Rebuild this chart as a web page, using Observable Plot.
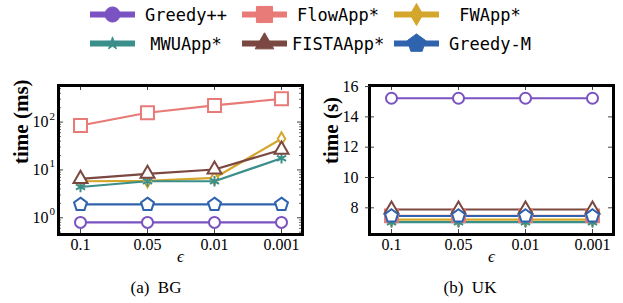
<!DOCTYPE html>
<html><head><meta charset="utf-8">
<script src="https://cdn.jsdelivr.net/npm/d3@7"></script>
<script src="https://cdn.jsdelivr.net/npm/@observablehq/plot@0.6"></script>
<style>
body{margin:0;width:623px;height:303px;position:relative;background:#fff;overflow:hidden}
#legend{position:absolute;left:90px;top:0;font-family:"DejaVu Sans Mono";font-size:17px;color:#000}
.item{position:absolute;display:flex;align-items:center;height:29px}
.item span{display:inline-block;width:92px;text-align:center;margin-left:5px;white-space:nowrap}
.cap{position:absolute;top:279px;font-family:"Liberation Serif";font-size:17px;line-height:18px;text-align:center;width:140px;white-space:pre;color:#000}
#left,#right{position:absolute;top:60px}
#left{left:0}
#right{left:311px}
</style></head><body>
<div id="legend"></div>
<div id="left"></div>
<div id="right"></div>
<div class="cap" style="left:86px">(a)  BG</div>
<div class="cap" style="left:400px">(b)  UK</div>
<script>
// ---- data ----
const eps = ["0.1", "0.05", "0.01", "0.001"];
const names = ["Greedy++", "FlowApp*", "FWApp*", "MWUApp*", "FISTAApp*", "Greedy-M"];
const colors = ["#7b52c1", "#e87a77", "#d4a72c", "#3b8f8b", "#7a4841", "#2f63ae"];

// BG, time (ms)
const bgGreedyPP = [0.8, 0.8, 0.8, 0.8];
const bgFlowApp  = [85, 157, 223, 307];
const bgFWApp    = [5.8, 5.9, 6.8, 45];
const bgMWUApp   = [4.4, 5.8, 5.8, 17.5];
const bgFISTAApp = [6.5, 8.3, 10.2, 26.5];
const bgGreedyM  = [1.9, 1.9, 1.9, 1.9];

// UK, time (s)
const ukGreedyPP = [15.23, 15.23, 15.23, 15.23];
const ukFlowApp  = [7.47, 7.47, 7.47, 7.47];
const ukFWApp    = [7.22, 7.22, 7.22, 7.22];
const ukMWUApp   = [7.05, 7.05, 7.05, 7.05];
const ukFISTAApp = [7.89, 7.89, 7.89, 7.89];
const ukGreedyM  = [7.46, 7.46, 7.46, 7.46];

const bgTicks = [1, 10, 100];
const bgExp = ["0", "1", "2"];
const bgMinor = [0.5, 0.6, 0.7, 0.8, 0.9, 2, 3, 4, 5, 6, 7, 8, 9, 20, 30, 40, 50, 60, 70, 80, 90, 200, 300, 400, 500];
const ukTicks = [8, 10, 12, 14, 16];

// ---- symbols ----
const pentagon = {
  draw(ctx, size) {
    const R = Math.sqrt(size / (2.5 * Math.sin(2 * Math.PI / 5)));
    for (let i = 0; i < 5; i++) {
      const a = -Math.PI / 2 + i * 2 * Math.PI / 5;
      const x = R * Math.cos(a), y = R * Math.sin(a);
      i ? ctx.lineTo(x, y) : ctx.moveTo(x, y);
    }
    ctx.closePath();
  }
};
const plotSymbols = ["circle", "square", "diamond", "asterisk", "triangle", pentagon];
const plotR = [5.5, 7.3, 3.9, 5, 5.2, 5.9];
const legendSymbols = [d3.symbolCircle, d3.symbolSquare, d3.symbolDiamond, d3.symbolStar, d3.symbolTriangle, pentagon];
const legendSize = [180, 260, 140, 50, 150, 220];

// ---- legend ----
const legend = document.getElementById("legend");
names.forEach((n, i) => {
  const col = i % 3, row = Math.floor(i / 3);
  const div = document.createElement("div");
  div.className = "item";
  div.style.left = (col * 152) + "px";
  div.style.top = (row * 29) + "px";
  const svg = d3.create("svg").attr("width", 45).attr("height", 29);
  svg.append("line").attr("x1", 0).attr("x2", 45).attr("y1", 14.5).attr("y2", 14.5)
    .attr("stroke", colors[i]).attr("stroke-width", 6);
  svg.append("path").attr("transform", "translate(22.5,14.5)")
    .attr("d", d3.symbol(legendSymbols[i], legendSize[i])())
    .attr("fill", colors[i]).attr("stroke", colors[i]).attr("stroke-width", 1);
  div.appendChild(svg.node());
  const sp = document.createElement("span");
  sp.textContent = n;
  div.appendChild(sp);
  legend.appendChild(div);
});

function rowsOf(series) {
  return series.map((vals, s) => vals.map((v, i) => ({eps: eps[i], value: v, s}))).flat();
}

function panel({series, yOpts, ticks, minor, title, titleDx, log}) {
  const width = log ? 311 : 312, height = 215;
  const mL = 58, mR = log ? 9 : 10, mT = 25, mB = 41;
  const W = width - mL - mR, H = height - mT - mB;
  const data = rowsOf(series);
  const marks = [];
  // ticks
  marks.push(Plot.tickY(ticks, {y: d => d, insetRight: W - 5, stroke: "#444", strokeWidth: 1}));
  marks.push(Plot.tickY(ticks, {y: d => d, insetLeft: W - 5, stroke: "#444", strokeWidth: 1}));
  if (minor) {
    marks.push(Plot.tickY(minor, {y: d => d, insetRight: W - 3, stroke: "#444", strokeWidth: 0.8}));
    marks.push(Plot.tickY(minor, {y: d => d, insetLeft: W - 3, stroke: "#444", strokeWidth: 0.8}));
  }
  marks.push(Plot.tickX(eps, {x: d => d, insetTop: H - 5, stroke: "#444", strokeWidth: 1}));
  marks.push(Plot.tickX(eps, {x: d => d, insetBottom: H - 5, stroke: "#444", strokeWidth: 1}));
  series.forEach((_, s) => {
    const d = data.filter(r => r.s === s);
    marks.push(Plot.line(d, {x: "eps", y: "value", stroke: colors[s], strokeWidth: 2.2}));
  });
  series.forEach((_, s) => {
    const d = data.filter(r => r.s === s);
    marks.push(Plot.dot(d, {x: "eps", y: "value", symbol: () => plotSymbols[s], r: plotR[s],
      stroke: colors[s], strokeWidth: 2, fill: "white"}));
  });
  marks.push(Plot.frame({stroke: "black", strokeWidth: 3}));
  marks.push(Plot.axisX({tickSize: 0, tickPadding: 4, fontSize: 16, label: null}));
  if (log) {
    marks.push(Plot.axisY({ticks, tickSize: 0, tickPadding: 10, fontSize: 16, label: null, tickFormat: () => "10"}));
    marks.push(Plot.text(ticks, {y: d => d, text: (d, i) => bgExp[i], frameAnchor: "left", dx: -9, dy: -6, textAnchor: "start", fontSize: 11}));
  } else {
    marks.push(Plot.axisY({ticks, tickSize: 4, tickPadding: 7, fontSize: 16, label: null, stroke: "#444"}));
  }
  marks.push(Plot.text([title], {frameAnchor: "left", dx: titleDx, dy: 4, rotate: -90, fontWeight: "bold", fontSize: 21}));
  marks.push(Plot.text(["\u03f5"], {frameAnchor: "bottom", dy: 27, fontStyle: "italic", fontSize: 17}));
  return Plot.plot({
    width, height, marginLeft: mL, marginRight: mR, marginTop: mT, marginBottom: mB,
    style: {fontFamily: "Liberation Serif", fontSize: "16px", color: "#000", background: "white"},
    x: {type: "point", domain: eps, padding: 0.31},
    y: yOpts,
    symbol: {type: "identity"},
    marks
  });
}

document.getElementById("left").appendChild(panel({
  series: [bgGreedyPP, bgFlowApp, bgFWApp, bgMWUApp, bgFISTAApp, bgGreedyM],
  yOpts: {type: "log", domain: [0.447, 582]},
  ticks: bgTicks, minor: bgMinor, title: "time (ms)", titleDx: -37, log: true
}));
document.getElementById("right").appendChild(panel({
  series: [ukGreedyPP, ukFlowApp, ukFWApp, ukMWUApp, ukFISTAApp, ukGreedyM],
  yOpts: {type: "linear", domain: [6.24, 16.07]},
  ticks: ukTicks, minor: null, title: "time (s)", titleDx: -38, log: false
}));
</script>
</body></html>
